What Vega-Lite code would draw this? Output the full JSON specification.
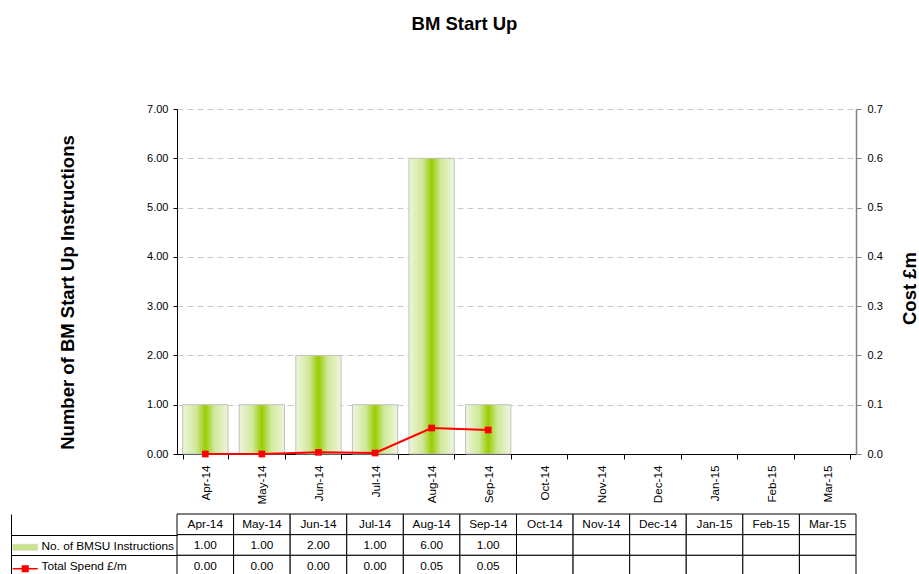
{
  "$schema": "https://vega.github.io/schema/vega-lite/v6.json",
  "padding": {"left": 10, "top": 14, "right": 0, "bottom": 0},
  "background": "white",
  "title": {"text": "BM Start Up", "fontSize": 18.5, "font": "Liberation Sans", "fontWeight": "bold", "anchor": "middle", "offset": 70, "color": "#000"},
  "config": {"font": "Liberation Sans", "view": {"stroke": null}},
  "data": {"values": [
    {"month": "Apr-14", "instructions": 1, "spend": 0.0},
    {"month": "May-14", "instructions": 1, "spend": 0.0},
    {"month": "Jun-14", "instructions": 2, "spend": 0.0034},
    {"month": "Jul-14", "instructions": 1, "spend": 0.002},
    {"month": "Aug-14", "instructions": 6, "spend": 0.0527},
    {"month": "Sep-14", "instructions": 1, "spend": 0.0487},
    {"month": "Oct-14", "instructions": null, "spend": null},
    {"month": "Nov-14", "instructions": null, "spend": null},
    {"month": "Dec-14", "instructions": null, "spend": null},
    {"month": "Jan-15", "instructions": null, "spend": null},
    {"month": "Feb-15", "instructions": null, "spend": null},
    {"month": "Mar-15", "instructions": null, "spend": null}
  ]},
  "spacing": 5,
  "vconcat": [
    {
      "width": 679,
      "height": 345,
      "layer": [
        {
          "mark": {"type": "bar", "stroke": "#c0c0c0", "strokeWidth": 1,
            "fill": {"gradient": "linear", "x1": 0, "y1": 0, "x2": 1, "y2": 0,
              "stops": [
                {"offset": 0, "color": "#eef6dc"},
                {"offset": 0.3, "color": "#d0e89a"},
                {"offset": 0.5, "color": "#99cc00"},
                {"offset": 0.7, "color": "#d0e89a"},
                {"offset": 1, "color": "#eef6dc"}
              ]}},
          "encoding": {
            "x": {"field": "month", "type": "ordinal", "sort": null,
              "scale": {"domain": ["Apr-14","May-14","Jun-14","Jul-14","Aug-14","Sep-14","Oct-14","Nov-14","Dec-14","Jan-15","Feb-15","Mar-15"], "paddingInner": 0.2, "paddingOuter": 0.1},
              "axis": {"title": null, "labelAngle": 270, "labelFontSize": 11.7, "labelColor": "#000", "tickBand": "extent", "tickSize": 5, "tickColor": "#000", "domainColor": "#000", "labelPadding": 6}},
            "y": {"field": "instructions", "type": "quantitative", "scale": {"domain": [0, 7]},
              "axis": {"orient": "left", "title": "Number of BM Start Up Instructions", "titleFontSize": 18.5, "titleFontWeight": "bold", "titleColor": "#000", "titleX": -110, "titleY": 183, "titleBaseline": "middle",
                "values": [0,1,2,3,4,5,6,7], "format": ".2f", "labelFontSize": 11, "labelColor": "#000", "tickSize": 4, "tickColor": "#000", "domainColor": "#000", "labelPadding": 5,
                "grid": true, "gridColor": "#c8c8c8", "gridDash": [6, 4], "gridWidth": 1}}
          }
        },
        {
          "mark": {"type": "line", "color": "#ff0000", "strokeWidth": 2, "point": {"shape": "square", "size": 45, "filled": true, "color": "#ff0000"}},
          "encoding": {
            "x": {"field": "month", "type": "ordinal", "sort": null},
            "y": {"field": "spend", "type": "quantitative", "scale": {"domain": [0, 0.7]},
              "axis": {"orient": "right", "title": "Cost £m", "titleFontSize": 18.5, "titleFontWeight": "bold", "titleColor": "#000", "titleAngle": 270, "titleX": 53, "titleY": 179, "titleBaseline": "middle",
                "values": [0,0.1,0.2,0.3,0.4,0.5,0.6,0.7], "format": ".1f", "labelFontSize": 11, "labelColor": "#000", "tickSize": 5, "tickColor": "#808080", "domainColor": "#808080", "domainWidth": 1.5, "labelPadding": 6, "grid": false}}
          }
        }
      ],
      "resolve": {"scale": {"y": "independent"}, "axis": {"y": "independent"}}
    },
    {
      "width": 679,
      "height": 62,
      "layer": [
        {
          "mark": {"type": "rect", "fill": "white", "stroke": "#000", "strokeWidth": 1},
          "encoding": {
            "x": {"field": "month", "type": "ordinal", "sort": null,
              "scale": {"domain": ["Apr-14","May-14","Jun-14","Jul-14","Aug-14","Sep-14","Oct-14","Nov-14","Dec-14","Jan-15","Feb-15","Mar-15"], "paddingInner": 0, "paddingOuter": 0},
              "axis": null},
            "y": {"datum": "Month", "type": "nominal",
              "scale": {"domain": ["Month", "instructions", "spend"], "paddingInner": 0, "paddingOuter": 0},
              "axis": {"orient": "left", "offset": 166, "title": null, "values": ["instructions", "spend"], "tickBand": "extent", "tickSize": -166, "tickColor": "#000", "domain": true, "domainColor": "#000",
                "labelAlign": "left", "labelPadding": 136, "labelBaseline": "middle", "labelFontSize": 11.8, "labelColor": "#000",
                "labelExpr": "datum.value === 'instructions' ? 'No. of BMSU Instructions' : datum.value === 'spend' ? 'Total Spend £/m' : ''"}}
          }
        },
        {
          "mark": {"type": "text", "fontSize": 11.8, "color": "#000"},
          "encoding": {
            "x": {"field": "month", "type": "ordinal", "sort": null},
            "y": {"datum": "Month", "type": "nominal"},
            "text": {"field": "month"}
          }
        },
        {
          "transform": [{"fold": ["instructions", "spend"], "as": ["key", "value"]}],
          "mark": {"type": "rect", "fill": "white", "stroke": "#000", "strokeWidth": 1},
          "encoding": {
            "x": {"field": "month", "type": "ordinal", "sort": null},
            "y": {"field": "key", "type": "nominal"}
          }
        },
        {
          "transform": [{"fold": ["instructions", "spend"], "as": ["key", "value"]}, {"filter": "isValid(datum.value)"}],
          "mark": {"type": "text", "fontSize": 11.8, "color": "#000"},
          "encoding": {
            "x": {"field": "month", "type": "ordinal", "sort": null},
            "y": {"field": "key", "type": "nominal"},
            "text": {"field": "value", "type": "quantitative", "format": ".2f"}
          }
        },
        {
          "transform": [{"fold": ["instructions", "spend"], "as": ["key", "value"]}, {"filter": "isValid(datum.value)"}],
          "mark": {"type": "point", "opacity": 0, "filled": true},
          "encoding": {
            "x": {"field": "month", "type": "ordinal", "sort": null},
            "y": {"field": "key", "type": "nominal"},
            "color": {"field": "key", "type": "nominal",
              "scale": {"domain": ["instructions", "spend"], "range": ["#c8e38a", "#ff0000"]},
              "legend": {"orient": "none", "legendX": -152.25, "legendY": 437.75, "title": null, "padding": 0,
                "labelExpr": "''", "labelFontSize": 1, "symbolSize": 156.25, "rowPadding": 10.5, "symbolType": "square", "symbolOpacity": 1,
                "encode": {"symbols": {"update": {
                  "shape": {"signal": "datum.value === 'spend' ? 'M-2,0H2M-0.45,-0.45H0.45V0.45H-0.45Z' : 'M-2,-0.5H2V0.5H-2Z'"},
                  "fill": {"signal": "datum.value === 'spend' ? '#ff0000' : {gradient: 'linear', x1: 0, y1: 0, x2: 1, y2: 0, stops: [{offset: 0, color: '#f0f7e0'}, {offset: 0.35, color: '#dcedb5'}, {offset: 0.5, color: '#a6d22a'}, {offset: 0.65, color: '#dcedb5'}, {offset: 1, color: '#f0f7e0'}]}"},
                  "stroke": {"signal": "datum.value === 'spend' ? '#ff0000' : '#d0d0d0'"},
                  "strokeWidth": {"signal": "datum.value === 'spend' ? 1.5 : 0.5"},
                  "opacity": {"value": 1}
                }}}}
            }
          }
        }
      ]
    }
  ]
}
